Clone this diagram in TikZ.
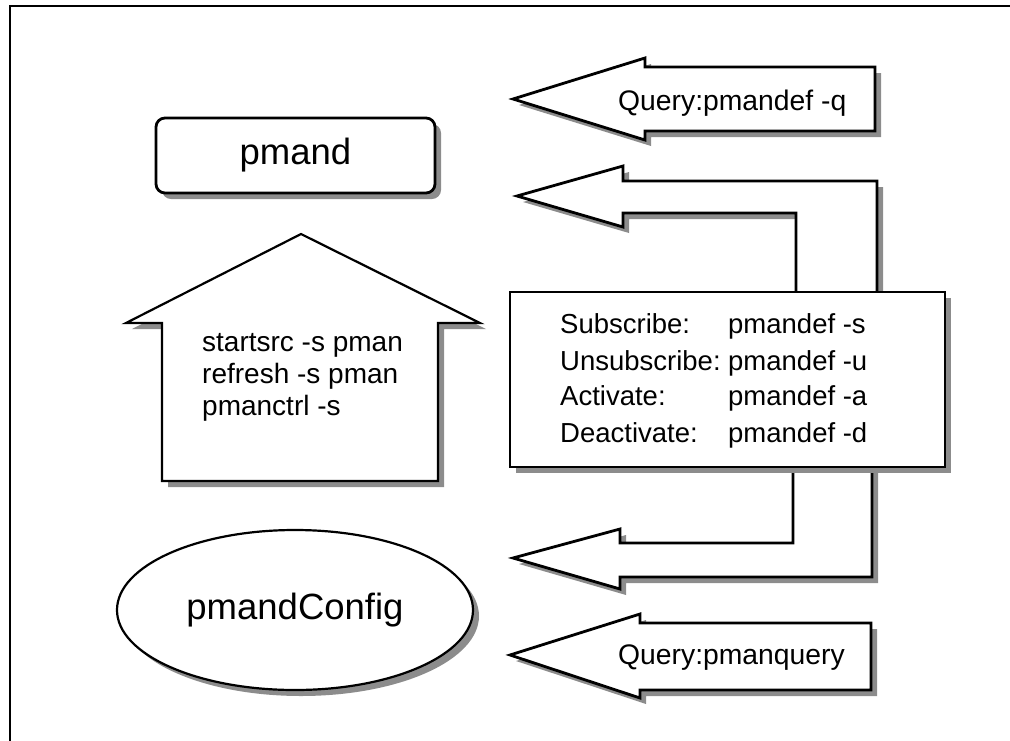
\documentclass[tikz,border=0pt]{standalone}
\usepackage{fontspec}
\setmainfont{Liberation Sans}
\usetikzlibrary{shadows,shapes.geometric}
\begin{document}
\begin{tikzpicture}[x=1pt,y=-1pt,
  outline/.style={draw=black, line width=2.8pt, fill=white, line join=miter},
  thinline/.style={draw=black, line width=2.2pt, fill=white, line join=miter},
  stipple/.style={drop shadow={shadow xshift=6pt, shadow yshift=-6pt, opacity=1, fill=black!45}},
  bigtext/.style={font=\fontsize{36.5}{42}\selectfont},
  boxtext/.style={font=\fontsize{27.5}{32}\selectfont, inner sep=0pt},
  housetext/.style={font=\fontsize{28}{32}\selectfont, inner sep=0pt},
  querytext/.style={font=\fontsize{28.3}{34}\selectfont, inner sep=0pt},
]
\useasboundingbox (0,0) rectangle (1010,740);
% page frame, running off the right and bottom edges
\draw[line width=1.5pt] (10,760) -- (10,6) -- (1030,6);

% daemon box
\node[outline, stipple, rounded corners=9pt, minimum width=279pt,
      minimum height=75pt, inner sep=0pt, bigtext] (pmand) at (295.5,155.5) {pmand};

% upward block arrow with start commands
\path[thinline, stipple] (301,234) -- (480,323) -- (438,323) -- (438,481)
  -- (162,481) -- (162,323) -- (126,323) -- cycle;
\node[housetext, anchor=base west] (h1) at (202,351) {startsrc -s pman};
\node[housetext, anchor=base west] (h2) at (202,383) {refresh -s pman};
\node[housetext, anchor=base west] (h3) at (202,415) {pmanctrl -s};

% query arrow (top)
\path[outline, stipple] (513,99) -- (645,58) -- (645,67) -- (875,67)
  -- (875,131) -- (645,131) -- (645,140) -- cycle;
\node[querytext, anchor=base west] (q1) at (618,110) {Query:pmandef -q};

% bent arrow leaving the top of the command box
\path[outline, stipple] (517,196) -- (623,166) -- (623,181) -- (877,181)
  -- (877,294) -- (796,294) -- (796,213) -- (623,213) -- (623,227) -- cycle;

% bent arrow leaving the bottom of the command box
\path[outline, stipple] (513,558) -- (620,529) -- (620,543) -- (793,543)
  -- (793,465) -- (872,465) -- (872,577) -- (620,577) -- (620,589) -- cycle;

% command box
\node[outline, stipple, minimum width=435pt, minimum height=175pt,
      inner sep=0pt] (cmds) at (727.5,379.5) {};
\node[boxtext, anchor=base west] (s1) at (560,333) {Subscribe:};
\node[boxtext, anchor=base west] (s2) at (560,370) {Unsubscribe:};
\node[boxtext, anchor=base west] (s3) at (560,405) {Activate:};
\node[boxtext, anchor=base west] (s4) at (560,442) {Deactivate:};
\node[boxtext, anchor=base west] (c1) at (728,333) {pmandef -s};
\node[boxtext, anchor=base west] (c2) at (728,370) {pmandef -u};
\node[boxtext, anchor=base west] (c3) at (728,405) {pmandef -a};
\node[boxtext, anchor=base west] (c4) at (728,442) {pmandef -d};

% query arrow (bottom)
\path[outline, stipple] (510,655) -- (640,614) -- (640,623) -- (871,623)
  -- (871,690) -- (640,690) -- (640,698) -- cycle;
\node[querytext, anchor=base west] (q2) at (618,664) {Query:pmanquery};

% configuration store
\node[ellipse, thinline, stipple, minimum width=356pt, minimum height=160pt,
      inner sep=0pt, bigtext] (cfg) at (295,610) {pmandConfig};
\end{tikzpicture}
\end{document}
